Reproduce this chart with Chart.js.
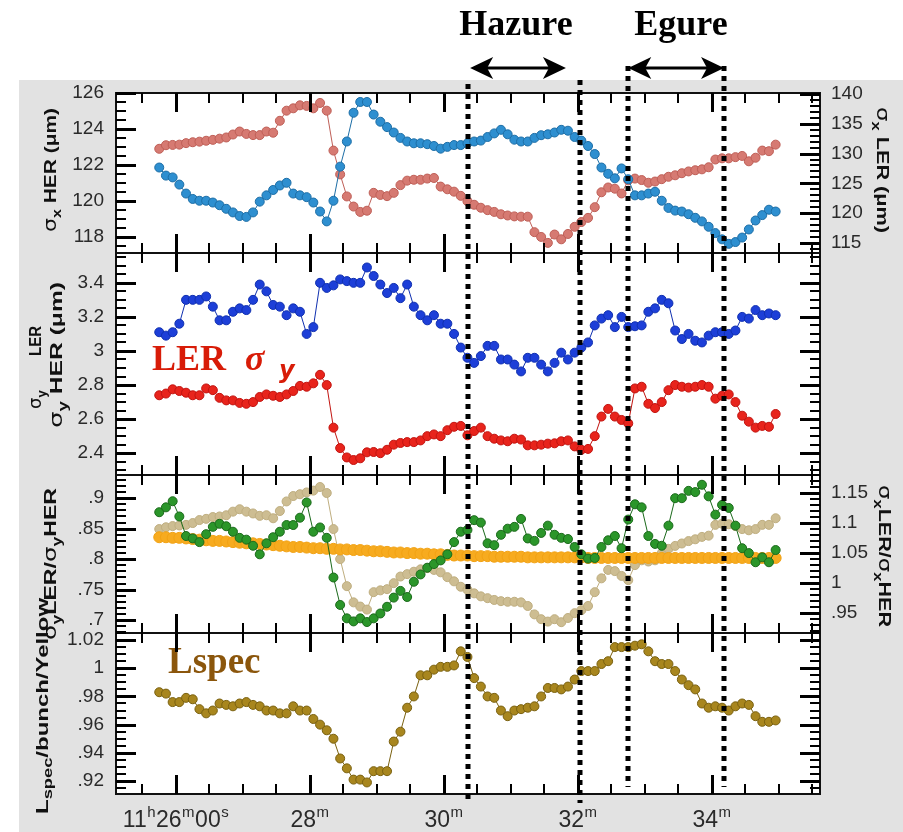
<!DOCTYPE html>
<html>
<head>
<meta charset="utf-8">
<script src="https://cdn.jsdelivr.net/npm/chart.js@4.4.1/dist/chart.umd.min.js"></script>
<style>
  html, body { margin: 0; padding: 0; background: #fff; }
  #wrap { position: relative; width: 903px; height: 832px; }
  canvas { display: block; }
  #ticks { position: absolute; left: 0; top: 0; pointer-events: none; }
</style>
</head>
<body>
<div id="wrap">
  <canvas id="c" width="903" height="832"></canvas>
  <canvas id="ticks" width="903" height="832"></canvas>
</div>
<script>
// time axis: minutes after 11h00m, one sample every 6 s
const startMin = 25.75;
const stepMin = 0.1;
const sampleCount = 93;

// panel 1
const sigmaxHER = [121.85,121.4,121.3,120.9,120.4,120.1,120.0,120.0,119.9,119.75,
  119.55,119.35,119.15,119.1,119.35,119.95,120.3,120.6,120.85,121.0,
  120.4,120.3,120.2,119.9,119.4,118.85,120.0,121.9,123.3,124.9,
  125.5,125.5,124.8,124.4,124.1,123.8,123.5,123.3,123.2,123.2,
  123.15,123.05,122.9,123.0,123.1,123.1,123.2,123.3,123.35,123.55,
  123.75,123.95,123.7,123.4,123.3,123.3,123.5,123.65,123.7,123.8,
  123.95,123.9,123.55,123.35,123.05,122.6,121.85,121.5,121.25,121.8,
  121.2,120.3,120.3,120.4,120.5,120.0,119.6,119.45,119.4,119.25,
  119.05,118.85,118.55,118.2,117.85,117.6,117.7,117.95,118.4,118.9,
  119.2,119.5,119.4];
const sigmaxLER = [130.8,131.4,131.45,131.5,131.75,131.9,132.0,132.15,132.3,132.5,
  132.7,133.2,133.7,133.3,133.1,133.1,133.7,133.5,135.5,137.2,
  137.6,138.1,138.0,137.6,138.5,137.2,130.5,126.5,122.8,121.1,
  120.2,120.4,123.4,123.05,122.85,123.4,124.7,125.45,125.6,125.6,
  125.8,125.9,124.45,124.0,123.6,122.9,122.0,121.4,120.9,120.5,
  120.2,119.8,119.6,119.45,119.4,119.4,116.8,116.0,115.0,116.4,
  115.6,116.5,117.7,118.5,119.2,121.0,123.5,124.3,124.1,123.3,
  125.5,125.8,125.55,125.1,125.3,125.7,126.1,126.35,126.7,127.0,
  127.2,127.35,127.7,129.0,129.2,129.2,129.4,129.6,128.7,129.3,
  130.5,130.4,131.5];

// panel 2
const sigmayLER = [3.11,3.09,3.11,3.16,3.30,3.30,3.30,3.32,3.26,3.18,
  3.18,3.23,3.25,3.24,3.30,3.39,3.35,3.27,3.26,3.21,
  3.25,3.23,3.10,3.14,3.40,3.37,3.385,3.42,3.41,3.40,
  3.40,3.49,3.44,3.39,3.34,3.37,3.31,3.39,3.26,3.21,
  3.18,3.21,3.16,3.16,3.10,3.02,2.96,2.93,2.97,3.03,
  3.03,2.95,2.95,2.92,2.88,2.96,2.96,2.92,2.88,2.93,
  2.99,2.95,2.99,3.02,3.05,3.15,3.19,3.21,3.14,3.20,
  3.14,3.145,3.15,3.23,3.25,3.30,3.28,3.12,3.07,3.10,
  3.06,3.05,3.09,3.11,3.11,3.10,3.12,3.20,3.19,3.24,
  3.21,3.22,3.21];
const sigmayHER = [2.74,2.75,2.775,2.765,2.755,2.74,2.74,2.78,2.77,2.725,
  2.71,2.71,2.695,2.69,2.70,2.73,2.745,2.737,2.73,2.745,
  2.765,2.795,2.79,2.81,2.86,2.80,2.55,2.43,2.375,2.36,
  2.37,2.405,2.407,2.40,2.42,2.45,2.46,2.465,2.465,2.475,
  2.50,2.51,2.50,2.535,2.555,2.56,2.505,2.53,2.55,2.50,
  2.485,2.475,2.47,2.485,2.48,2.446,2.446,2.45,2.456,2.458,
  2.47,2.475,2.44,2.42,2.425,2.50,2.615,2.66,2.615,2.595,
  2.575,2.78,2.79,2.69,2.665,2.70,2.77,2.80,2.79,2.785,
  2.79,2.80,2.79,2.72,2.737,2.745,2.70,2.62,2.585,2.55,
  2.56,2.555,2.63];

// panel 3
const ratioY = [0.877,0.885,0.895,0.87,0.838,0.834,0.828,0.841,0.853,0.858,
  0.854,0.845,0.835,0.832,0.822,0.808,0.826,0.836,0.845,0.856,
  0.856,0.868,0.893,0.845,0.852,0.835,0.77,0.725,0.703,0.698,
  0.703,0.697,0.703,0.711,0.722,0.737,0.748,0.738,0.763,0.775,
  0.786,0.792,0.798,0.808,0.828,0.845,0.848,0.864,0.86,0.826,
  0.823,0.84,0.85,0.853,0.866,0.834,0.83,0.843,0.855,0.84,
  0.835,0.833,0.82,0.808,0.801,0.802,0.82,0.831,0.838,0.818,
  0.865,0.89,0.885,0.838,0.825,0.822,0.855,0.9,0.9,0.912,
  0.91,0.922,0.903,0.873,0.889,0.884,0.855,0.818,0.81,0.795,
  0.803,0.795,0.815];
const yellowRatio = [0.836,0.836,0.835,0.835,0.834,0.833,0.832,0.831,0.83,0.83,
  0.829,0.828,0.827,0.826,0.826,0.825,0.824,0.823,0.822,0.821,
  0.82,0.82,0.819,0.818,0.818,0.817,0.817,0.816,0.816,0.815,
  0.815,0.814,0.813,0.813,0.812,0.811,0.811,0.81,0.81,0.809,
  0.809,0.808,0.808,0.807,0.806,0.806,0.806,0.805,0.805,0.805,
  0.804,0.804,0.804,0.804,0.804,0.803,0.803,0.803,0.803,0.803,
  0.803,0.803,0.803,0.803,0.802,0.802,0.802,0.802,0.802,0.802,
  0.802,0.802,0.802,0.802,0.802,0.802,0.802,0.802,0.802,0.802,
  0.802,0.802,0.802,0.802,0.802,0.802,0.802,0.802,0.802,0.802,
  0.802,0.802,0.802];
const ratioX = [1.09,1.093,1.095,1.096,1.097,1.10,1.105,1.107,1.11,1.111,
  1.113,1.119,1.123,1.119,1.116,1.112,1.113,1.108,1.12,1.136,
  1.145,1.148,1.151,1.154,1.16,1.15,1.09,1.04,0.995,0.968,
  0.961,0.956,0.985,0.988,0.99,1.0,1.011,1.015,1.019,1.023,
  1.025,1.022,1.018,1.01,1.003,0.994,0.989,0.983,0.978,0.975,
  0.972,0.97,0.969,0.969,0.968,0.962,0.948,0.94,0.936,0.94,
  0.935,0.942,0.95,0.955,0.962,0.985,1.008,1.022,1.02,1.012,
  1.005,1.03,1.038,1.036,1.038,1.05,1.057,1.062,1.066,1.07,
  1.073,1.077,1.079,1.097,1.099,1.098,1.095,1.09,1.088,1.09,
  1.097,1.097,1.108];

// panel 4
const lspec = [0.983,0.982,0.976,0.976,0.979,0.978,0.971,0.968,0.97,0.975,
  0.974,0.973,0.975,0.976,0.974,0.973,0.97,0.97,0.968,0.968,
  0.973,0.97,0.97,0.964,0.96,0.956,0.95,0.936,0.929,0.921,
  0.921,0.919,0.927,0.927,0.927,0.948,0.955,0.972,0.98,0.995,
  0.995,0.999,1.001,1.001,1.002,1.012,1.008,0.993,0.987,0.98,
  0.979,0.97,0.966,0.97,0.971,0.972,0.973,0.98,0.986,0.986,
  0.985,0.987,0.992,0.998,0.998,0.998,1.003,1.005,1.015,1.015,
  1.015,1.016,1.017,1.012,1.005,1.003,1.003,0.998,0.992,0.988,
  0.985,0.975,0.972,0.973,0.972,0.97,0.973,0.975,0.974,0.966,
  0.962,0.962,0.963];

// axis ticks
const xMajorTicks = [26, 28, 30, 32, 34];
const xTickLabels = [[['11','h'],['26','m'],['00','s']], [['28','m']], [['30','m']], [['32','m']], [['34','m']]];
const ticksSigmaxHER = [118, 120, 122, 124, 126];
const ticksSigmaxLER = [115, 120, 125, 130, 135, 140];
const ticksSigmay = [2.4, 2.6, 2.8, 3, 3.2, 3.4];
const ticksRatioY = [0.7, 0.75, 0.8, 0.85, 0.9];
const ticksRatioX = [0.95, 1, 1.05, 1.1, 1.15];
const ticksLspec = [0.92, 0.94, 0.96, 0.98, 1, 1.02];

// marked periods
const markerTimes = [30.36, 32.03, 32.75, 34.18];
const hazureSpan = [30.39, 31.82];
const egureSpan = [32.75, 34.18];

const times = [];
for (let i = 0; i < sampleCount; i++) times.push(+(startMin + i * stepMin).toFixed(2));
const pts = arr => arr.map((v, i) => ({x: times[i], y: v}));

const NUM_FONT = "'Liberation Sans Narrow', 'Liberation Sans', sans-serif";
const TITLE_B = 'bold 17px "Liberation Sans"';
const SIG = '18px "DejaVu Sans"';
const SUB = 'bold 13px "Liberation Sans"';

function fmt(v) {
  let s = String(+v.toFixed(3));
  if (s.startsWith('0.')) s = s.slice(1);
  return s;
}

function yAxis(position, stack, weight, min, max, majors, showLabels) {
  return {
    type: 'linear', position, stack, stackWeight: weight, min, max,
    grid: { display: false }, border: { display: false },
    afterBuildTicks: s => { s.ticks = majors.map(v => ({ value: v })); },
    afterFit: s => { s.width = position === 'left' ? 116 : 83; },
    ticks: {
      display: showLabels, autoSkip: false, color: '#2a2a2a',
      padding: position === 'left' ? 4 : 3,
      font: { family: NUM_FONT, size: 19 },
      callback: v => fmt(v)
    }
  };
}

function dataset(label, data, axis, fill, edge, radius, lineW) {
  return {
    label, data: pts(data), yAxisID: axis, xAxisID: 'x',
    borderColor: edge, borderWidth: lineW, showLine: lineW > 0,
    pointBackgroundColor: fill, pointBorderColor: edge, pointBorderWidth: 1,
    pointRadius: radius, pointHoverRadius: radius, tension: 0
  };
}

function rich(ctx, parts, x, y, angle, len) {
  ctx.save();
  ctx.translate(x, y);
  ctx.rotate(angle);
  ctx.textAlign = 'left';
  ctx.textBaseline = 'alphabetic';
  let w = 0;
  for (const p of parts) { ctx.font = p.f; w += ctx.measureText(p.t).width + (p.gap || 0); }
  if (len) ctx.scale(len / w, 1);
  let cx = 0;
  for (const p of parts) {
    ctx.font = p.f;
    ctx.fillText(p.t, cx, p.dy || 0);
    cx += ctx.measureText(p.t).width + (p.gap || 0);
  }
  ctx.restore();
}

const panelDefs = [
  { left: 'yL1', right: 'yR1', lMaj: ticksSigmaxHER, lMin: 0.5, rMaj: ticksSigmaxLER, rMin: 1 },
  { left: 'yL2', right: null, lMaj: ticksSigmay, lMin: 0.05 },
  { left: 'yL3', right: 'yR3', lMaj: ticksRatioY, lMin: 0.01, rMaj: ticksRatioX, rMin: 0.01 },
  { left: 'yL4', right: null, lMaj: ticksLspec, lMin: 0.005 }
];

// tick marks as small filled bars pointing into the panel
function yTicks(ctx, scale, majors, minorStep, x0, dir) {
  const k0 = Math.ceil(scale.min / minorStep - 1e-6);
  for (let k = k0; k * minorStep <= scale.max + 1e-9; k++) {
    const y = Math.round(scale.getPixelForValue(k * minorStep));
    ctx.fillRect(dir > 0 ? x0 : x0 - 10, y - 1, 10, 2);
  }
  for (const v of majors) {
    const y = Math.round(scale.getPixelForValue(v));
    ctx.fillRect(dir > 0 ? x0 : x0 - 20, y - 1, 20, 3);
  }
}

// inward ticks go on a transparent canvas laid over the chart
function drawTickOverlay(chart) {
  const oc = document.getElementById('ticks').getContext('2d');
  const { chartArea: a, scales } = chart;
  const xs = scales.x;
  oc.clearRect(0, 0, 903, 832);
  oc.fillStyle = '#000';
  for (const p of panelDefs) {
    const sl = scales[p.left];
    yTicks(oc, sl, p.lMaj, p.lMin, Math.round(a.left), 1);
    if (p.right) yTicks(oc, scales[p.right], p.rMaj, p.rMin, Math.round(a.right), -1);
    else yTicks(oc, sl, p.lMaj, p.lMin, Math.round(a.right), -1);
    for (let k = 51; k <= 71; k++) {
      const t = k / 2;
      const x = Math.round(xs.getPixelForValue(t));
      const major = xMajorTicks.includes(t);
      const len = major ? 19 : 10;
      const w = major ? 3 : 2;
      oc.fillRect(x - 1, Math.round(sl.top), w, len);
      oc.fillRect(x - 1, Math.round(sl.bottom) - len, w, len);
    }
  }
}

function arrow(ctx, x1, x2, y) {
  ctx.lineWidth = 3;
  ctx.beginPath(); ctx.moveTo(x1 + 10, y); ctx.lineTo(x2 - 10, y); ctx.stroke();
  for (const [tip, d] of [[x1, 1], [x2, -1]]) {
    ctx.beginPath();
    ctx.moveTo(tip, y);
    ctx.lineTo(tip + d * 23, y - 11);
    ctx.lineTo(tip + d * 17, y);
    ctx.lineTo(tip + d * 23, y + 11);
    ctx.closePath();
    ctx.fill();
  }
}

const decor = {
  id: 'decor',
  beforeDraw(chart) {
    const { ctx, chartArea: a } = chart;
    ctx.save();
    ctx.fillStyle = '#fff';
    ctx.fillRect(0, 0, chart.width, chart.height);
    ctx.fillStyle = '#e2e2e2';
    ctx.fillRect(19, 80, chart.width - 19, chart.height - 80);
    ctx.fillStyle = '#fff';
    ctx.fillRect(a.left, a.top, a.right - a.left, a.bottom - a.top);
    ctx.restore();
  },
  afterDraw(chart) {
    const { ctx, chartArea: a, scales } = chart;
    const xs = scales.x;
    ctx.save();

    // frames
    ctx.strokeStyle = '#111';
    ctx.lineWidth = 2;
    ctx.beginPath();
    for (const p of panelDefs) {
      const b = Math.round(scales[p.left].bottom);
      ctx.moveTo(a.left, b); ctx.lineTo(a.right, b);
    }
    ctx.rect(a.left, a.top, a.right - a.left, a.bottom - a.top);
    ctx.stroke();

    // x tick labels with superscripts
    ctx.fillStyle = '#2a2a2a';
    ctx.textBaseline = 'alphabetic';
    ctx.textAlign = 'left';
    xMajorTicks.forEach((t, i) => {
      const parts = xTickLabels[i];
      let w = 0;
      for (const [num, s] of parts) {
        ctx.font = '23px ' + NUM_FONT; w += ctx.measureText(num).width;
        ctx.font = '15px ' + NUM_FONT; w += ctx.measureText(s).width + 1;
      }
      let x = xs.getPixelForValue(t) - w / 2;
      for (const [num, s] of parts) {
        ctx.font = '23px ' + NUM_FONT; ctx.fillText(num, x, 827); x += ctx.measureText(num).width;
        ctx.font = '15px ' + NUM_FONT; ctx.fillText(s, x + 0.5, 817); x += ctx.measureText(s).width + 1;
      }
    });

    // axis titles
    ctx.fillStyle = '#111';
    const up = -Math.PI / 2, down = Math.PI / 2;
    rich(ctx, [{ t: 'σ', f: SIG }, { t: 'x', f: SUB, dy: 5 }, { t: ' HER (μm)', f: TITLE_B }], 56, 232, up, 124);
    rich(ctx, [{ t: 'σ', f: SIG }, { t: 'x', f: SUB, dy: 5 }, { t: ' LER (μm)', f: TITLE_B }], 877, 107, down, 126);
    rich(ctx, [{ t: 'σ', f: SIG }, { t: 'y', f: SUB, dy: 5 }], 41, 409, up);
    rich(ctx, [{ t: 'LER', f: TITLE_B }], 41, 356, up, 30);
    rich(ctx, [{ t: 'σ', f: SIG }, { t: 'y', f: SUB, dy: 5 }, { t: ' HER (μm)', f: TITLE_B }], 62, 428, up, 146);
    rich(ctx, [{ t: 'σ', f: SIG }, { t: 'y', f: SUB, dy: 5 }, { t: 'LER/', f: TITLE_B },
               { t: 'σ', f: SIG }, { t: 'y', f: SUB, dy: 5 }, { t: 'HER', f: TITLE_B }], 56, 640, up, 152);
    rich(ctx, [{ t: 'σ', f: SIG }, { t: 'x', f: SUB, dy: 5 }, { t: 'LER/', f: TITLE_B },
               { t: 'σ', f: SIG }, { t: 'x', f: SUB, dy: 5 }, { t: 'HER', f: TITLE_B }], 879, 485, down, 142);
    rich(ctx, [{ t: 'L', f: TITLE_B }, { t: 'spec', f: SUB, dy: 4 }, { t: '/bunch/Yellow', f: TITLE_B }], 48, 814, up, 216);

    // in-plot labels
    ctx.textAlign = 'left';
    ctx.fillStyle = '#d81c08';
    ctx.font = 'bold 36px "Liberation Serif"';
    ctx.fillText('LER', 152, 370);
    ctx.font = 'bold italic 36px "Liberation Serif"';
    ctx.fillText('σ', 245, 370);
    ctx.font = 'bold italic 24px "DejaVu Sans"';
    ctx.fillText('y', 279, 378);
    ctx.fillStyle = '#8b560c';
    ctx.font = 'bold 37px "Liberation Serif"';
    ctx.fillText('Lspec', 168, 673);

    // marker lines
    ctx.strokeStyle = '#000';
    ctx.lineWidth = 5;
    ctx.setLineDash([5, 5]);
    const tops = [a.top - 9, a.top - 13, a.top - 27, a.top - 27];
    const bottoms = [a.bottom + 9, a.bottom + 9, a.bottom - 7, a.bottom - 7];
    markerTimes.forEach((t, i) => {
      const x = Math.round(xs.getPixelForValue(t));
      ctx.beginPath(); ctx.moveTo(x, tops[i]); ctx.lineTo(x, bottoms[i]); ctx.stroke();
    });
    ctx.setLineDash([]);

    // period labels
    ctx.fillStyle = '#000';
    ctx.strokeStyle = '#000';
    arrow(ctx, xs.getPixelForValue(hazureSpan[0]), xs.getPixelForValue(hazureSpan[1]), 68);
    arrow(ctx, xs.getPixelForValue(egureSpan[0]), xs.getPixelForValue(egureSpan[1]), 68);
    ctx.font = 'bold 36px "Liberation Serif"';
    ctx.textAlign = 'center';
    ctx.fillText('Hazure', 516, 35);
    ctx.fillText('Egure', 681, 35);
    ctx.restore();

    drawTickOverlay(chart);
  }
};

new Chart(document.getElementById('c'), {
  type: 'scatter',
  data: {
    datasets: [
      dataset('σx HER', sigmaxHER, 'yL1', '#2e8fd0', '#1d6ea6', 4.5, 1),
      dataset('σx LER', sigmaxLER, 'yR1', '#d67a72', '#bf5f57', 4.5, 1),
      dataset('σy LER', sigmayLER, 'yL2', '#1d3fd8', '#1030b0', 4.5, 1),
      dataset('σy HER', sigmayHER, 'yL2', '#e8241c', '#c21410', 4.5, 1),
      dataset('σyLER/σyHER', ratioY, 'yL3', '#2b962a', '#1b6a1b', 4.5, 1),
      dataset('Yellow', yellowRatio, 'yL3', '#f7ab1f', '#f2a214', 5.5, 0),
      dataset('σxLER/σxHER', ratioX, 'yR3', '#cdbd92', '#bfae80', 4.5, 1),
      dataset('Lspec', lspec, 'yL4', '#a8861e', '#7a6110', 4.5, 1)
    ]
  },
  options: {
    responsive: false,
    animation: false,
    events: [],
    layout: { padding: { top: 93, left: 0, right: 0, bottom: 0 } },
    plugins: { legend: { display: false }, tooltip: { enabled: false } },
    scales: {
      x: {
        type: 'linear', position: 'bottom', min: 25.1045, max: 35.612,
        grid: { display: false }, border: { display: false },
        ticks: { display: false },
        afterFit: s => { s.height = 38; }
      },
      // left stack: listed bottom panel first
      yL4: yAxis('left', 'L', 161, 0.9108, 1.025, ticksLspec, true),
      yL3: yAxis('left', 'L', 158, 0.679, 0.938, ticksRatioY, true),
      yL2: yAxis('left', 'L', 222, 2.272, 3.575, ticksSigmay, true),
      yL1: yAxis('left', 'L', 160, 117.09, 126.0, ticksSigmaxHER, true),
      // right stack: listed top panel first
      yR1: yAxis('right', 'R', 160, 113.3, 140.17, ticksSigmaxLER, true),
      yR2: yAxis('right', 'R', 222, 2.272, 3.575, ticksSigmay, false),
      yR3: yAxis('right', 'R', 158, 0.917, 1.18, ticksRatioX, true),
      yR4: yAxis('right', 'R', 161, 0.9108, 1.025, ticksLspec, false)
    }
  },
  plugins: [decor]
});
</script>
</body>
</html>
